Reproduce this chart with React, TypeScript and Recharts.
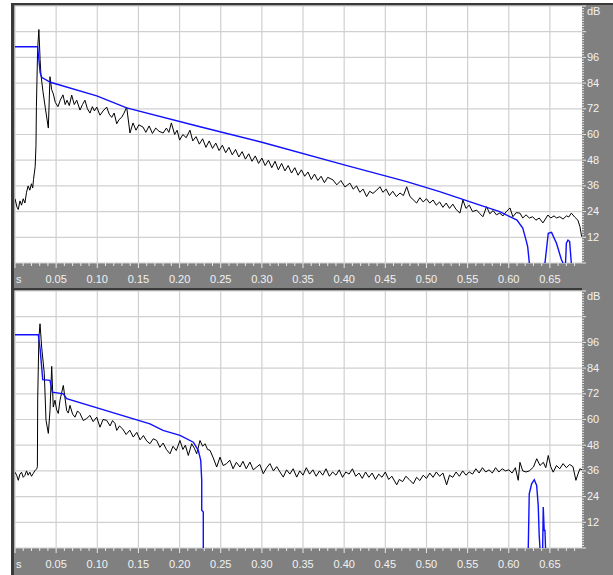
import { LineChart, Line, XAxis, YAxis, CartesianGrid } from "recharts";

// time (s), level (dB)
const topMeasured: [number, number][] = [
  [0, 30], [0.0025, 26], [0.004, 25], [0.006, 29], [0.008, 27], [0.01, 30], [0.012, 28],
  [0.014, 33], [0.016, 36], [0.018, 34], [0.02, 37], [0.0215, 35], [0.0225, 39], [0.0245, 45],
  [0.0255, 55], [0.026, 73], [0.0275, 100], [0.029, 109], [0.0305, 95], [0.0315, 88], [0.034, 80],
  [0.037, 72], [0.0405, 63], [0.0425, 87], [0.0445, 81], [0.0465, 79], [0.049, 75], [0.0522, 73],
  [0.055, 76], [0.0583, 78.5], [0.061, 74], [0.0632, 76], [0.066, 73.5], [0.0689, 78.4], [0.072, 74],
  [0.075, 76], [0.079, 71.4], [0.082, 74], [0.085, 76], [0.088, 72], [0.0911, 70], [0.094, 73],
  [0.0965, 71], [0.0993, 72.8], [0.1033, 69], [0.107, 71], [0.1114, 72.8], [0.1145, 69.5], [0.1175, 68],
  [0.1205, 70], [0.1236, 65], [0.1265, 67], [0.1296, 68], [0.1325, 70], [0.1357, 72.8], [0.1397, 60.7],
  [0.1434, 65.4], [0.147, 62], [0.1505, 64.5], [0.1555, 63.5], [0.159, 61], [0.163, 64], [0.167, 60.5],
  [0.171, 63], [0.175, 61.5], [0.18, 60.7], [0.184, 63], [0.187, 61], [0.19, 65.4], [0.194, 60],
  [0.197, 62], [0.2, 57.4], [0.204, 60], [0.208, 58.5], [0.2126, 62], [0.216, 57], [0.22, 59],
  [0.224, 55.5], [0.228, 58], [0.232, 54], [0.236, 57], [0.24, 53.5], [0.244, 56], [0.248, 52.5],
  [0.252, 55], [0.256, 51.5], [0.26, 54], [0.264, 50.5], [0.268, 53], [0.272, 49.5], [0.276, 52],
  [0.28, 48.5], [0.284, 51], [0.288, 47.5], [0.292, 50], [0.296, 46.5], [0.3, 49], [0.304, 45.5],
  [0.308, 48], [0.312, 44.5], [0.316, 47.5], [0.32, 43.5], [0.324, 46.5], [0.328, 43], [0.332, 45.5],
  [0.336, 42], [0.34, 44.5], [0.344, 41], [0.348, 43.5], [0.352, 40.5], [0.356, 42.5], [0.36, 39],
  [0.364, 41.5], [0.368, 38.5], [0.372, 40.5], [0.376, 37.5], [0.38, 40], [0.3864, 38.8], [0.391, 36.5],
  [0.396, 38.5], [0.401, 35.5], [0.407, 37.3], [0.411, 34.5], [0.415, 36], [0.419, 33], [0.423, 34.5],
  [0.4273, 31], [0.431, 33.5], [0.435, 32.5], [0.4395, 34], [0.4435, 35.6], [0.447, 33], [0.451, 34.5],
  [0.455, 31.5], [0.459, 33.5], [0.4635, 31], [0.4678, 32.7], [0.472, 31.5], [0.476, 35.6], [0.48, 31],
  [0.484, 29.5], [0.488, 28], [0.492, 30.5], [0.496, 28.5], [0.5, 30], [0.504, 28], [0.508, 29.4],
  [0.512, 27], [0.516, 28.5], [0.52, 26], [0.524, 28], [0.528, 25.5], [0.532, 27.5], [0.536, 25],
  [0.5407, 23.3], [0.5443, 29.4], [0.548, 25.5], [0.552, 27], [0.556, 24], [0.561, 24.7], [0.565, 23],
  [0.5686, 21.6], [0.573, 26.3], [0.577, 23], [0.581, 24.5], [0.585, 22.5], [0.589, 23.3], [0.593, 22],
  [0.597, 24], [0.6015, 25.7], [0.605, 21.6], [0.609, 23.5], [0.6136, 23.3], [0.617, 21], [0.621, 22.5],
  [0.625, 21], [0.629, 21.6], [0.633, 20], [0.637, 21], [0.6415, 18.7], [0.6476, 22.4], [0.651, 21],
  [0.655, 22], [0.658, 21], [0.662, 21.6], [0.666, 20.5], [0.67, 22], [0.673, 21.5], [0.676, 23.3],
  [0.68, 21.5], [0.684, 20], [0.6865, 17], [0.6886, 12.3],
];

const topDecay: [number, number | null][] = [
  [0, 101], [0.0275, 101], [0.029, 95], [0.0305, 89], [0.0324, 86.7], [0.043, 84.4], [0.0993, 78],
  [0.1357, 72.4], [0.2248, 63.6], [0.3, 56.4], [0.4, 45.8], [0.476, 38], [0.516, 33.3], [0.565, 27],
  [0.589, 24], [0.61, 20], [0.617, 16.3], [0.6215, 10], [0.623, 7.6], [0.625, 0], [0.63, null],
  [0.644, 0], [0.648, 13.9], [0.652, 14.3], [0.658, 9.2], [0.664, 1.5], [0.666, 0], [0.667, null],
  [0.669, 0], [0.67, 9.2], [0.672, 10.7], [0.674, 10], [0.676, 0],
];

const bottomMeasured: [number, number][] = [
  [0, 35.4], [0.002, 34], [0.004, 31.6], [0.006, 34.5], [0.008, 35.4], [0.01, 33], [0.012, 33.9],
  [0.014, 36], [0.016, 34], [0.018, 35.4], [0.02, 33.5], [0.022, 34.7], [0.024, 36], [0.0264, 37],
  [0.0272, 38], [0.0276, 70], [0.029, 98], [0.0304, 104.7], [0.0324, 93.8], [0.0356, 81.5], [0.0377, 59.6],
  [0.0405, 53.5], [0.0425, 64], [0.0446, 84.8], [0.0465, 65.8], [0.0486, 69], [0.0506, 64.5], [0.0526, 62.8],
  [0.0547, 69], [0.0587, 75.9], [0.0628, 64.2], [0.0648, 63], [0.0668, 66.6], [0.07, 62.5], [0.0729, 61.1],
  [0.076, 64], [0.079, 62.8], [0.083, 59.5], [0.0871, 60.5], [0.0911, 61.9], [0.095, 59], [0.0993, 61.1],
  [0.1033, 56.4], [0.107, 60], [0.1114, 59.6], [0.1155, 57], [0.1185, 59.5], [0.1215, 58.2], [0.1236, 54.9],
  [0.127, 57], [0.131, 55.5], [0.135, 53], [0.1395, 55], [0.1437, 51.8], [0.148, 54], [0.152, 50.5],
  [0.156, 52.5], [0.16, 50], [0.164, 48.7], [0.168, 51], [0.1722, 50.2], [0.176, 47], [0.18, 49],
  [0.184, 46], [0.1883, 44], [0.192, 47.5], [0.196, 45.5], [0.2005, 50.2], [0.204, 46], [0.207, 48],
  [0.2106, 43.2], [0.2147, 48.7], [0.218, 46.5], [0.2208, 44], [0.2248, 50.2], [0.228, 47.5], [0.2309, 48.7],
  [0.234, 46], [0.237, 45.6], [0.241, 42], [0.2451, 37.8], [0.2491, 42.4], [0.253, 38.5], [0.2572, 39.4],
  [0.261, 41], [0.265, 37], [0.269, 40], [0.2734, 37.8], [0.277, 40.5], [0.281, 37], [0.2855, 40.1],
  [0.2895, 36.5], [0.2937, 37.8], [0.2975, 39], [0.3017, 34.7], [0.3058, 37.5], [0.3098, 39.4], [0.314, 36],
  [0.318, 38], [0.322, 35.5], [0.326, 33.1], [0.33, 36.5], [0.334, 34.5], [0.338, 37], [0.3423, 33.1],
  [0.346, 36], [0.35, 34], [0.354, 37.5], [0.358, 34.5], [0.362, 36.5], [0.366, 33.5], [0.37, 36],
  [0.374, 34], [0.378, 37], [0.382, 33.5], [0.386, 35.5], [0.39, 34], [0.394, 36.5], [0.398, 33],
  [0.402, 35.5], [0.406, 34.5], [0.41, 37], [0.414, 33.5], [0.418, 35], [0.422, 32.5], [0.426, 35.5],
  [0.43, 33], [0.434, 35], [0.438, 32], [0.442, 34.5], [0.446, 33], [0.45, 35.5], [0.454, 32],
  [0.458, 33.5], [0.4638, 29.5], [0.467, 32], [0.471, 31], [0.475, 33.5], [0.479, 32], [0.484, 30],
  [0.488, 33], [0.492, 31.5], [0.496, 34], [0.5, 32.5], [0.504, 35], [0.508, 33], [0.512, 35.5],
  [0.516, 33.5], [0.52, 35], [0.5245, 29.5], [0.528, 34], [0.532, 33], [0.536, 35.5], [0.54, 33.5],
  [0.544, 36], [0.548, 34], [0.552, 35.5], [0.556, 34.5], [0.56, 37], [0.564, 35], [0.568, 37.5],
  [0.572, 35.5], [0.576, 36.5], [0.58, 35], [0.584, 37.5], [0.588, 35.5], [0.592, 37], [0.596, 36],
  [0.6, 36.5], [0.604, 35], [0.608, 37.5], [0.6115, 31.6], [0.6136, 40], [0.617, 36], [0.621, 35.5],
  [0.625, 36], [0.63, 37.8], [0.634, 41.7], [0.638, 38.5], [0.642, 40], [0.645, 37.5], [0.648, 43.2],
  [0.651, 38], [0.654, 35.4], [0.658, 38.5], [0.662, 37], [0.666, 39.4], [0.67, 37.5], [0.674, 39],
  [0.678, 38], [0.6816, 31.6], [0.6845, 35], [0.6865, 37], [0.689, 36.5],
];

const bottomDecay: [number, number | null][] = [
  [0, 99.6], [0.0283, 99.6], [0.0305, 93], [0.0337, 78.6], [0.0425, 78.3], [0.0453, 72.8], [0.0587, 72],
  [0.0628, 69.7], [0.164, 58], [0.1798, 54.9], [0.2005, 52.6], [0.2167, 49.4], [0.2227, 45.6],
  [0.2257, 40.9], [0.2269, 31.6], [0.2269, 17.6], [0.2288, 16.8], [0.2288, 0], [0.23, null],
  [0.6237, 0], [0.6249, 25.3], [0.6278, 30], [0.631, 31.9], [0.6339, 29.2], [0.6358, 19.9],
  [0.637, 5.9], [0.6379, 0], [0.639, null], [0.6412, 0], [0.6419, 19.1], [0.6431, 8.2], [0.644, 8.2],
  [0.6447, 0],
];

const timeGrid = [0, 0.05, 0.1, 0.15, 0.2, 0.25, 0.3, 0.35, 0.4, 0.45, 0.5, 0.55, 0.6, 0.65];
const levelGrid = [0, 12, 24, 36, 48, 60, 72, 84, 96, 108, 120];
const levelLabels: Record<number, string> = {
  12: "12", 24: "24", 36: "36", 48: "48", 60: "60", 72: "72", 84: "84", 96: "96", 120: "dB",
};
const minorTimes = Array.from({ length: 69 }, (_, i) => i / 100);
const minorLevels = Array.from({ length: 101 }, (_, i) => Math.round(i * 12) / 10);

const FONT = "'Liberation Sans', Arial, sans-serif";
const TEXT = "#f2f2f2";

const toPoints = (rows: [number, number | null][]) => rows.map(([t, db]) => ({ t, db }));

function TimeTick(props: any) {
  const { x, y, payload } = props;
  const v = payload.value as number;
  const major = Math.round(v * 100) % 5 === 0;
  return (
    <g>
      <line x1={x} x2={x} y1={y} y2={y + (major ? 5 : 3)} stroke="#e8e8e8" />
      {major && (
        <text
          x={v === 0 ? x + 1 : x}
          y={y + 19.5}
          textAnchor={v === 0 ? "start" : "middle"}
          fill={TEXT}
          fontSize={11}
          fontFamily={FONT}
        >
          {v === 0 ? "s" : v.toFixed(2)}
        </text>
      )}
    </g>
  );
}

function LevelTick(props: any) {
  const { x, y, payload } = props;
  const v = payload.value as number;
  const i = Math.round(v / 1.2);
  const major = i % 10 === 0;
  const label = major ? levelLabels[Math.round(v)] : undefined;
  return (
    <g>
      <line x1={x} x2={x + (major ? 4 : 2)} y1={y} y2={y} stroke="#e8e8e8" />
      {label && (
        <text
          x={x + 5}
          y={label === "dB" ? y + 9 : y + 3.5}
          textAnchor="start"
          fill={TEXT}
          fontSize={11}
          fontFamily={FONT}
        >
          {label}
        </text>
      )}
    </g>
  );
}

function Panel({
  measured,
  decay,
  height,
  axisHeight,
}: {
  measured: [number, number][];
  decay: [number, number | null][];
  height: number;
  axisHeight: number;
}) {
  return (
    <LineChart width={599} height={height} margin={{ top: 1, right: 0, bottom: 0, left: 1 }}>
      <CartesianGrid
        fill="#ffffff"
        stroke="#d0d0d0"
        strokeWidth={1.2}
        horizontalValues={levelGrid}
        verticalValues={timeGrid}
      />
      <XAxis
        type="number"
        dataKey="t"
        domain={[0, 0.689]}
        allowDataOverflow
        ticks={minorTimes}
        interval={0}
        tick={(p: any) => <TimeTick {...p} />}
        tickLine={false}
        axisLine={false}
        tickSize={0}
        tickMargin={0}
        height={axisHeight}
      />
      <YAxis
        orientation="right"
        type="number"
        domain={[0, 120]}
        allowDataOverflow
        ticks={minorLevels}
        interval={0}
        tick={(p: any) => <LevelTick {...p} />}
        tickLine={false}
        axisLine={false}
        tickSize={0}
        tickMargin={0}
        width={31}
      />
      <Line
        data={toPoints(measured)}
        dataKey="db"
        type="linear"
        stroke="#000000"
        strokeWidth={1}
        dot={false}
        isAnimationActive={false}
      />
      <Line
        data={toPoints(decay)}
        dataKey="db"
        type="linear"
        stroke="#1010ff"
        strokeWidth={1.4}
        dot={false}
        connectNulls={false}
        isAnimationActive={false}
      />
    </LineChart>
  );
}

export default function App() {
  return (
    <div style={{ position: "absolute", left: 0, top: 0, width: 613, height: 575, background: "#ffffff" }}>
      <div
        style={{
          position: "absolute",
          left: 11,
          top: 3,
          width: 602,
          height: 572,
          background: "#808080",
          borderLeft: "3px solid #3a3a3a",
          borderTop: "2px solid #3a3a3a",
          boxSizing: "border-box",
        }}
      />
      <div style={{ position: "absolute", left: 14, top: 5 }}>
        <Panel measured={topMeasured} decay={topDecay} height={283} axisHeight={25} />
      </div>
      <div style={{ position: "absolute", left: 11, top: 288, width: 571, height: 2, background: "#3a3a3a" }} />
      <div style={{ position: "absolute", left: 14, top: 290 }}>
        <Panel measured={bottomMeasured} decay={bottomDecay} height={285} axisHeight={27} />
      </div>
    </div>
  );
}
